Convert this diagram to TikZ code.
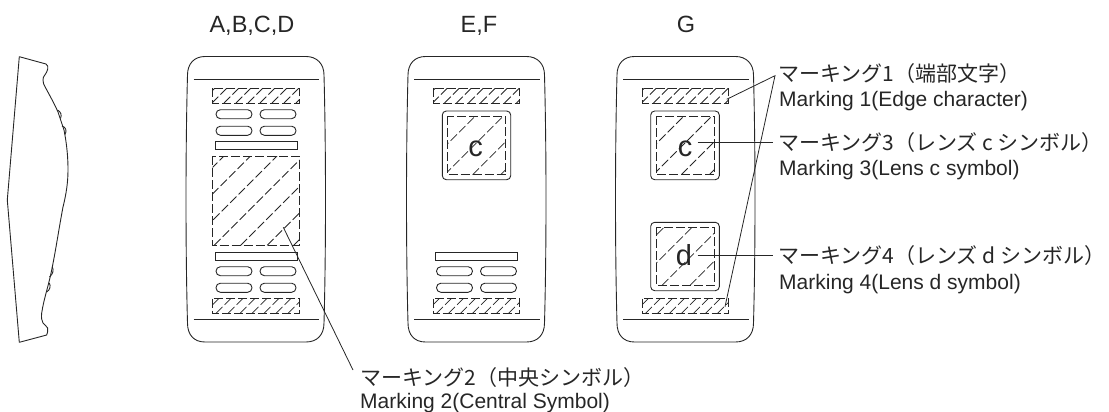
\documentclass[tikz,border=0pt]{standalone}
\usepackage{fontspec}
\setmainfont{Liberation Sans}
\newfontfamily\jp{Noto Sans CJK JP}
\usetikzlibrary{calc}
\tikzset{
  outline/.style={draw=black!85,line width=0.9pt},
  thin line/.style={draw=black!85,line width=0.8pt},
  hatchline/.style={draw=black!85,line width=0.75pt,dash pattern=on 9pt off 3pt},
  leader/.style={draw=black!85,line width=0.8pt},
  head/.style={inner sep=0,anchor=base,font=\fontsize{23.5}{23.5}\selectfont,text=black!85},
  jplabel/.style={inner sep=0,anchor=base west,font=\jp\fontsize{21}{21}\selectfont,text=black!85},
  enlabel/.style={inner sep=0,anchor=base west,font=\fontsize{21}{21}\selectfont,text=black!85},
  sym/.style={inner sep=0,anchor=base,font=\fontsize{29}{29}\selectfont,text=black!85},
}
% hatched dashed rectangle: x1,y1,x2,y2,spacing,phase
\newcommand{\hatchbox}[6]{%
  \begin{scope}
    \clip (#1,#2) rectangle (#3,#4);
    \pgfmathsetmacro{\hh}{#4-#2}
    \pgfmathsetmacro{\ww}{#3-#1}
    \pgfmathsetmacro{\nn}{int((\ww+\hh)/#5)+2}
    \foreach \i in {0,...,\nn}{
      \draw[hatchline] ({#1+#6+\i*#5-\hh},#4) -- ++(\hh+2,-\hh-2);
    }
  \end{scope}
  \draw[hatchline] (#1,#2) rectangle (#3,#4);
}
\newcommand{\pill}[4]{\draw[outline,rounded corners=4.4pt] (#1,#2) rectangle (#3,#4);}
\newcommand{\card}[1]{%
  \begin{scope}[xshift=#1]
    \draw[outline] (205,56.5) -- (306,56.5) .. controls (317,56.5) and (324,64) .. (324,75)
      .. controls (326,150) and (326,250) .. (324,323) .. controls (324,335) and (317,342) .. (306,342)
      -- (205,342) .. controls (194,342) and (187.5,335) .. (187.5,323)
      .. controls (185.5,250) and (185.5,150) .. (187.5,75) .. controls (187.5,64) and (194,56.5) .. (205,56.5) -- cycle;
    \draw[thin line] (193.5,79.5) -- (319,79.5);
    \draw[thin line] (193.5,319) -- (319,319);
    \hatchbox{212.7}{88.3}{299.3}{103}{12}{2}
    \hatchbox{212.7}{298.7}{299.3}{313.3}{12}{6}
  \end{scope}}
\newcommand{\pillset}[2]{%
  \begin{scope}[xshift=#1,yshift=#2]
    \pill{216}{109.7}{252}{118.7}\pill{260}{109.7}{296}{118.7}
    \pill{216}{126.2}{252}{135.3}\pill{260}{126.2}{296}{135.3}
  \end{scope}}
\begin{document}
\begin{tikzpicture}[x=1pt,y=-1pt]
\useasboundingbox (0,0) rectangle (1109,412);
% side profile
\draw[outline,line join=round] (19.3,56.7) -- (46,64) .. controls (48,65) and (48,67) .. (47.7,69)
  .. controls (47,74) and (42.5,76) .. (43,80)
  .. controls (43,83) and (44,85) .. (45,86.7)
  .. controls (50,96) and (54,103) .. (58,112)
  .. controls (60,118) and (62,124) .. (64,130)
  .. controls (67,145) and (68,158) .. (68,170)
  .. controls (68,183) and (66,195) .. (63,207)
  .. controls (59,228) and (56,249) .. (51.7,270)
  .. controls (48,288) and (44,298) .. (41.7,313)
  .. controls (41,318) and (42,321) .. (43,323)
  .. controls (44,325) and (47,326) .. (47.7,328)
  .. controls (48,331) and (47.5,333) .. (46.7,335)
  -- (19.3,342.3) -- (7.3,200) -- cycle;
\draw[outline] (57.5,110) .. controls (61,112) and (62,115) .. (60.5,118.5);
\draw[outline] (62,126) .. controls (66,127) and (67,131) .. (65,134.5);
\draw[outline] (52.3,267) .. controls (54,270) and (53,274) .. (49.5,277);
\draw[outline] (49.3,283) .. controls (51,286) and (50,290) .. (46.7,292);
% headings
\node[head] (h1) at (252,32.5) {A,B,C,D};
\node[head] (h2) at (479,32.5) {E,F};
\node[head] (h3) at (686,32.5) {G};
% cards
\card{0pt}
\card{220.5pt}
\card{429.5pt}
% card A contents
\pillset{0pt}{0pt}
\pillset{0pt}{-157pt}
\draw[outline] (215,141.3) rectangle (297.3,149.3);
\draw[outline] (215,252.7) rectangle (297.3,260.3);
\hatchbox{212.7}{156.3}{299.3}{245.3}{26.5}{11}
% card E contents
\draw[outline,rounded corners=4pt] (442.3,111) rectangle (510.7,179.7);
\hatchbox{447.3}{116}{505.7}{174.7}{28}{0}
\node[sym] (c1) at (475.5,156.5) {c};
\pillset{220.5pt}{-157pt}
\draw[outline] (435.5,252.7) rectangle (517.8,260.3);
% card G contents
\draw[outline,rounded corners=4pt] (650.7,111) rectangle (719.3,179.7);
\hatchbox{656}{116}{714.3}{174.7}{28}{0}
\node[sym] (c2) at (685,156.5) {c};
\draw[outline,rounded corners=4pt] (650.7,222.3) rectangle (719.3,290.7);
\hatchbox{656}{227.3}{714.3}{285.3}{28}{8}
\node[sym] (d) at (684,265) {d};
% labels
\node[jplabel] (m1) at (778,81.7) {マーキング1（端部文字）};
\node[enlabel] (e1) at (779,106.7) {Marking 1(Edge character)};
\node[jplabel] (m3) at (778,150.7) {マーキング3（レンズ c シンボル）};
\node[enlabel] (e3) at (779,175) {Marking 3(Lens c symbol)};
\node[jplabel] (m4) at (778,263) {マーキング4（レンズ d シンボル）};
\node[enlabel] (e4) at (779,289) {Marking 4(Lens d symbol)};
\node[jplabel] (m2) at (360,385) {マーキング2（中央シンボル）};
\node[enlabel] (e2) at (360,408) {Marking 2(Central Symbol)};
% leaders
\coordinate (a1) at (775,75.7);
\coordinate (t1) at (726.7,99.3);
\coordinate (t2) at (725,306.7);
\draw[leader] (t1) -- (a1) -- (t2);
\coordinate (l3) at (773,142);
\coordinate (s3) at (697.7,142);
\draw[leader] (s3) -- (l3);
\coordinate (l4) at (773,255.3);
\coordinate (s4) at (697.7,255.3);
\draw[leader] (s4) -- (l4);
\coordinate (s2) at (283.3,227.3);
\coordinate (l2) at (353,370);
\draw[leader] (s2) -- (l2);
\end{tikzpicture}
\end{document}
